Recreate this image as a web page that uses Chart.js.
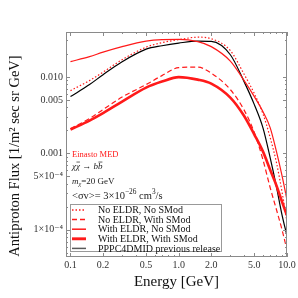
<!DOCTYPE html>
<html>
<head>
<meta charset="utf-8">
<script src="https://cdn.jsdelivr.net/npm/chart.js@4.4.1/dist/chart.umd.min.js"></script>
<style>
html, body { margin: 0; padding: 0; background: #fff; }
</style>
</head>
<body>
<canvas id="chart" width="298" height="298"></canvas>
<script>
// energies in GeV, flux in 1/(m^2 sec sr GeV)
const energies = [0.1, 0.15, 0.2, 0.3, 0.5, 0.7, 1.0, 1.5, 2.0, 3.0, 4.0, 5.0, 6.0, 7.0, 8.0, 9.0, 10.0];
const noEldrNoSmod = [0.00662, 0.00895, 0.01155, 0.0168, 0.0245, 0.0281, 0.0307, 0.0331, 0.0316, 0.0221, 0.0110, 0.00605, 0.00331, 0.00161, 7.6e-4, 3.16e-4, 1.29e-4];
const noEldrWithSmod = [0.00211, 0.00285, 0.00374, 0.00545, 0.00794, 0.0104, 0.01323, 0.01343, 0.0112, 0.00682, 0.00374, 0.00187, 8.3e-4, 3.57e-4, 1.84e-4, 1.01e-4, 5.5e-5];
const withEldrNoSmod = [0.01585, 0.0184, 0.0211, 0.0249, 0.0294, 0.0307, 0.0309, 0.0289, 0.0249, 0.0161, 0.00908, 0.00553, 0.00352, 0.00217, 0.00106, 5.13e-4, 2.49e-4];
const withEldrWithSmod = [0.00205, 0.00268, 0.00336, 0.00476, 0.00725, 0.00868, 0.00994, 0.00922, 0.00818, 0.00536, 0.00312, 0.00176, 0.00106, 6.1e-4, 3.8e-4, 2.34e-4, 1.54e-4];
const pppcPrevious = [0.00553, 0.00794, 0.0107, 0.0158, 0.0231, 0.0256, 0.0277, 0.0294, 0.0291, 0.0195, 0.00881, 0.00434, 0.00217, 8.8e-4, 3.68e-4, 1.58e-4, 8.4e-5];

const seriesLabels = ["No ELDR, No SMod", "No ELDR, With SMod", "With ELDR, No SMod", "With ELDR, With SMod", "PPPC4DMID previous release"];

const xTickVals = [0.1, 0.2, 0.5, 1, 2, 5, 10];
const xTickLabels = ["0.1", "0.2", "0.5", "1.0", "2.0", "5.0", "10.0"];
const xMinorVals = [0.3, 0.4, 0.6, 0.7, 0.8, 0.9, 3, 4, 6, 7, 8, 9];
const yTickVals = [1e-4, 5e-4, 0.001, 0.005, 0.01];
const yTickLabels = ["1\u00d710\u207b\u2074", "5\u00d710\u207b\u2074", "0.001", "0.005", "0.010"];
const yMinorVals = [5e-5, 6e-5, 7e-5, 8e-5, 9e-5, 2e-4, 3e-4, 4e-4, 6e-4, 7e-4, 8e-4, 9e-4, 0.002, 0.003, 0.004, 0.006, 0.007, 0.008, 0.009, 0.02, 0.03];

const SERIF = "'Liberation Serif', 'DejaVu Serif', serif";
const RED = "#ff1a1a";

function pts(ys) {
    return energies.map((e, i) => ({ x: e, y: ys[i] }));
}

function line(label, ys, color, width, dash) {
    return {
        label: label,
        data: pts(ys),
        borderColor: color,
        borderWidth: width,
        borderDash: dash,
        pointRadius: 0,
        fill: false,
        cubicInterpolationMode: "monotone"
    };
}

// draws a run of text pieces (italic / sup / sub / overbar)
function richText(ctx, x, y, parts, size) {
    let cx = x;
    for (let p of parts) {
        let s = p.sup || p.sub ? size * 0.7 : size;
        ctx.font = (p.italic ? "italic " : "") + s + "px " + SERIF;
        let dy = p.sup ? -size * 0.38 : (p.sub ? size * 0.3 : 0);
        ctx.fillText(p.t, cx, y + dy);
        let w = ctx.measureText(p.t).width;
        if (p.over) {
            ctx.beginPath();
            ctx.lineWidth = 0.7;
            ctx.moveTo(cx + 0.5, y - size * 0.55);
            ctx.lineTo(cx + w, y - size * 0.55);
            ctx.stroke();
        }
        cx += w;
    }
}

const decorations = {
    id: "decorations",
    afterDatasetsDraw(chart) {
        const ctx = chart.ctx;
        ctx.save();
        ctx.textBaseline = "middle";
        ctx.textAlign = "left";

        // annotations
        ctx.fillStyle = RED;
        ctx.font = "8.5px " + SERIF;
        ctx.fillText("Einasto MED", 72, 155);
        ctx.fillStyle = "#222";
        ctx.strokeStyle = "#222";
        richText(ctx, 72, 167, [
            { t: "\u03c7", italic: true }, { t: "\u03c7", italic: true, over: true },
            { t: " \u2192 " }, { t: "b", italic: true }, { t: "b", italic: true, over: true }
        ], 9);
        richText(ctx, 72, 182, [
            { t: "m", italic: true }, { t: "\u03c7", italic: true, sub: true }, { t: "=20 GeV" }
        ], 9);
        richText(ctx, 72, 196, [
            { t: "<\u03c3v>= 3\u00d710" }, { t: "\u221226", sup: true }, { t: " cm" }, { t: "3", sup: true }, { t: "/s" }
        ], 10.5);

        // legend box
        ctx.fillStyle = "#fff";
        ctx.fillRect(70.5, 204.5, 151, 47);
        ctx.strokeStyle = "#999";
        ctx.lineWidth = 1;
        ctx.strokeRect(70.5, 204.5, 151, 47);
        chart.data.datasets.forEach((ds, i) => {
            let yy = 210 + i * 9.6;
            ctx.beginPath();
            ctx.strokeStyle = ds.borderColor;
            ctx.globalAlpha = ds.borderColor === "#000" ? 0.65 : 1;
            ctx.lineWidth = ds.borderWidth + 0.3;
            ctx.setLineDash(ds.borderDash || []);
            ctx.moveTo(72, yy);
            ctx.lineTo(86, yy);
            ctx.stroke();
            ctx.setLineDash([]);
            ctx.globalAlpha = 1;
            ctx.fillStyle = "#111";
            ctx.font = "10px " + SERIF;
            ctx.fillText(ds.label, 98, yy + 0.5);
        });
        ctx.restore();
    },
    afterDraw(chart) {
        const { ctx, chartArea: a, scales } = chart;
        ctx.save();
        ctx.strokeStyle = "#8a8a8a";
        ctx.lineWidth = 1;
        ctx.strokeRect(a.left + 0.5, a.top + 0.5, a.right - a.left - 1, a.bottom - a.top - 1);
        ctx.beginPath();
        const xTick = (v, len) => {
            let px = Math.round(scales.x.getPixelForValue(v)) + 0.5;
            ctx.moveTo(px, a.bottom); ctx.lineTo(px, a.bottom - len);
            ctx.moveTo(px, a.top); ctx.lineTo(px, a.top + len);
        };
        const yTick = (v, len) => {
            let py = Math.round(scales.y.getPixelForValue(v)) + 0.5;
            ctx.moveTo(a.left, py); ctx.lineTo(a.left + len, py);
            ctx.moveTo(a.right, py); ctx.lineTo(a.right - len, py);
        };
        xTickVals.forEach(v => xTick(v, 4));
        xMinorVals.forEach(v => xTick(v, 2));
        yTickVals.forEach(v => yTick(v, 4));
        yMinorVals.forEach(v => yTick(v, 2));
        ctx.stroke();

        // y axis title, placed like the original (a bit below the plot centre)
        ctx.translate(15, 156);
        ctx.rotate(-Math.PI / 2);
        ctx.textAlign = "center";
        ctx.textBaseline = "middle";
        ctx.fillStyle = "#111";
        ctx.font = "14.5px " + SERIF;
        ctx.fillText("Antiproton Flux [1/m\u00b2 sec sr GeV]", 0, 0);
        ctx.restore();
    }
};

new Chart(document.getElementById("chart"), {
    type: "line",
    data: {
        datasets: [
            line(seriesLabels[0], noEldrNoSmod, RED, 1.2, [1.5, 2]),
            line(seriesLabels[1], noEldrWithSmod, RED, 1.2, [5, 3]),
            line(seriesLabels[2], withEldrNoSmod, RED, 1.2, []),
            line(seriesLabels[3], withEldrWithSmod, RED, 2.6, []),
            line(seriesLabels[4], pppcPrevious, "#000", 1.2, [])
        ]
    },
    options: {
        responsive: false,
        animation: false,
        devicePixelRatio: 1,
        layout: { padding: { left: 0, right: 11, top: 32, bottom: 0 } },
        plugins: { legend: { display: false }, tooltip: { enabled: false } },
        scales: {
            x: {
                type: "logarithmic",
                min: 0.0909,
                max: 10.02,
                afterBuildTicks: s => { s.ticks = xTickVals.map(v => ({ value: v })); },
                afterFit: s => { s.height = 41; },
                grid: { display: false, drawTicks: false },
                border: { display: false },
                ticks: {
                    autoSkip: false, maxRotation: 0, padding: 2,
                    color: "#333", font: { family: SERIF, size: 10 },
                    callback: v => xTickLabels[xTickVals.indexOf(v)]
                },
                title: {
                    display: true, text: "Energy [GeV]", color: "#111",
                    font: { family: SERIF, size: 15 }, padding: { top: 0, bottom: 7 }
                }
            },
            y: {
                type: "logarithmic",
                min: 4.4e-5,
                max: 0.0387,
                afterBuildTicks: s => { s.ticks = yTickVals.map(v => ({ value: v })); },
                afterFit: s => { s.width = 66; },
                grid: { display: false, drawTicks: false },
                border: { display: false },
                ticks: {
                    autoSkip: false, padding: 3,
                    color: "#333", font: { family: SERIF, size: 10 },
                    callback: v => yTickLabels[yTickVals.indexOf(v)]
                },
                title: { display: false }
            }
        }
    },
    plugins: [decorations]
});
</script>
</body>
</html>
